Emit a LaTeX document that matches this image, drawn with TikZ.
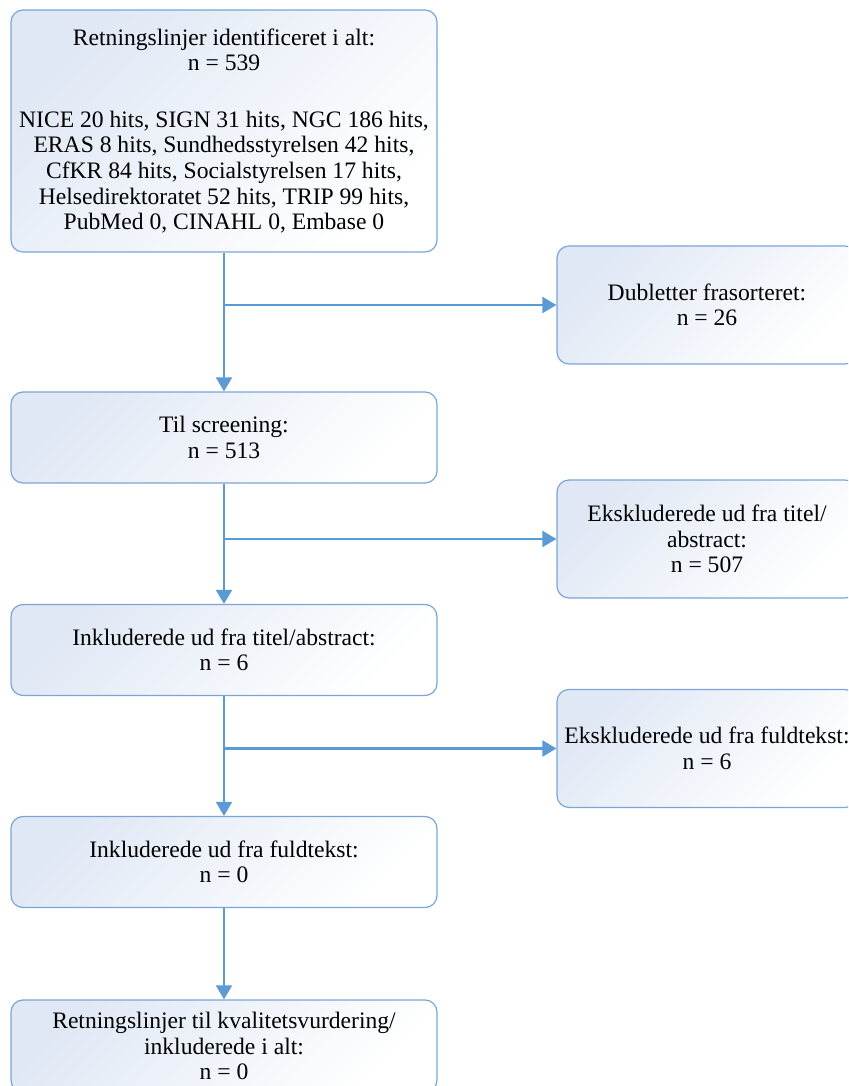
\documentclass[tikz,border=0pt]{standalone}
\usepackage{fontspec}
\setmainfont{Liberation Serif}
\usetikzlibrary{positioning,arrows.meta}
\definecolor{linje}{HTML}{5B9BD5}
\definecolor{kant}{HTML}{7AA5D6}
\definecolor{fyld}{HTML}{E0E8F5}

\begin{document}
\begin{tikzpicture}[x=0.5pt, y=0.5pt,
    boks/.style={draw=kant, line width=0.6pt, rounded corners=6pt, top color=fyld, bottom color=white,
      shading angle=45, align=center, inner sep=0pt, minimum width=213pt, minimum height=45.5pt,
      font=\fontsize{11.8}{12.8}\selectfont},
    sideboks/.style={boks, minimum width=150pt, minimum height=59pt},
    pil/.style={linje, line width=1.1pt, -{Triangle[width=8pt,length=7pt]}}]
  \useasboundingbox (0,0) rectangle (848,1086);
  \clip (0,0) rectangle (848,1086);
  % hovedkolonne
  \node[boks, minimum height=121pt] (ident) at (224,955)
    {Retningslinjer identificeret i alt:\\ n = 539\\[15.5pt]
     NICE 20 hits, SIGN 31 hits, NGC 186 hits,\\ ERAS 8 hits, Sundhedsstyrelsen 42 hits,\\
     CfKR 84 hits, Socialstyrelsen 17 hits,\\ Helsedirektoratet 52 hits, TRIP 99 hits,\\
     PubMed 0, CINAHL 0, Embase 0};
  \node[boks] (screen) at (224,648.5) {Til screening:\\ n = 513};
  \node[boks] (inkl1) at (224,436) {Inkluderede ud fra titel/abstract:\\ n = 6};
  \node[boks] (inkl2) at (224,224) {Inkluderede ud fra fuldtekst:\\ n = 0};
  \node[boks, minimum height=46pt] (endelig) at (224,40)
    {Retningslinjer til kvalitetsvurdering/\\ inkluderede i alt:\\ n = 0};
  % frasorterede
  \node[sideboks] (dub) at (707,781) {Dubletter frasorteret:\\ n = 26};
  \node[sideboks] (eks1) at (707,547) {Ekskluderede ud fra titel/\\ abstract:\\ n = 507};
  \node[sideboks] (eks2) at (707,337.5) {Ekskluderede ud fra fuldtekst:\\ n = 6};
  % pile
  \draw[pil] (ident) -- (screen);
  \draw[pil] (screen) -- (inkl1);
  \draw[pil] (inkl1) -- (inkl2);
  \draw[pil] (inkl2) -- (endelig);
  \draw[pil] (ident.south |- dub.west) -- (dub.west);
  \draw[pil] (screen.south |- eks1.west) -- (eks1.west);
  \draw[pil] (inkl1.south |- eks2.west) -- (eks2.west);
\end{tikzpicture}
\end{document}
